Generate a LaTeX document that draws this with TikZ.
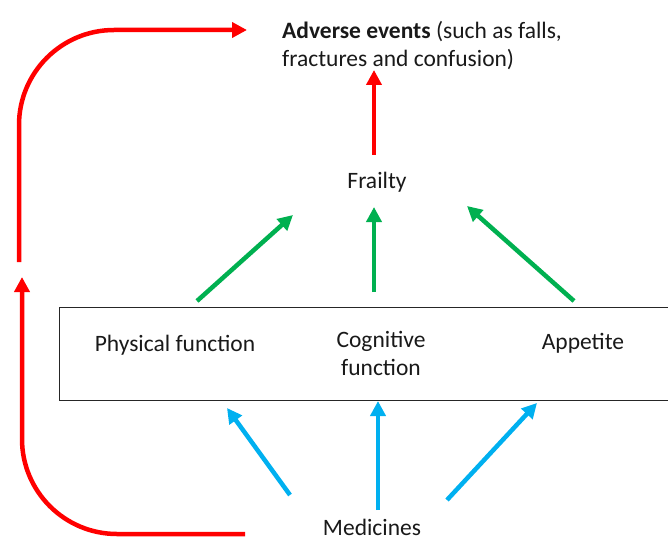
\documentclass[tikz,border=0pt]{standalone}
\usepackage{fontspec}
\setmainfont{Carlito}
\usetikzlibrary{arrows.meta}
\definecolor{myred}{HTML}{FF0000}
\definecolor{mygreen}{HTML}{00B050}
\definecolor{myblue}{HTML}{00B0F0}
\tikzset{
  lbl/.style={font=\fontsize{23.5}{28}\selectfont, inner sep=0pt, text=black!90},
  arr/.style={line width=4.5pt, -{Triangle[length=15pt,width=15pt]}},
  redarr/.style={arr, draw=myred},
  grnarr/.style={arr, draw=mygreen},
  bluarr/.style={arr, draw=myblue},
}
\begin{document}
\begin{tikzpicture}[x=1pt,y=-1pt]
\useasboundingbox (0,0) rectangle (668,540);
\clip (0,0) rectangle (668,540);
% box
\node[draw=black!85, line width=1.4pt, minimum width=640pt, minimum height=93pt, anchor=north west, inner sep=0pt] (box) at (59,307) {};
% texts
\node[lbl, anchor=north west, align=left] (adv) at (282,21) {\textbf{Adverse events} (such as falls,\\fractures and confusion)};
\node[lbl] (frailty) at (377,182) {Frailty};
\node[lbl] (phys) at (175,345) {Physical function};
\node[lbl, align=center] (cog) at (381,353) {Cognitive\\function};
\node[lbl] (app) at (583,343) {Appetite};
\node[lbl] (med) at (372,527) {Medicines};
% coordinates
\coordinate (r1s) at (19,262);
\coordinate (r1c) at (19,30);
\coordinate (r1e) at (247,30);
\coordinate (r2s) at (245,534);
\coordinate (r2c) at (22,534);
\coordinate (r2e) at (22,277);
\coordinate (rm1) at (374,155);
\coordinate (rm2) at (374,70);
\coordinate (g1s) at (197,301);
\coordinate (g1e) at (293,215);
\coordinate (g2s) at (374,292);
\coordinate (g2e) at (374,207);
\coordinate (g3s) at (574,301);
\coordinate (g3e) at (467,206);
\coordinate (b1s) at (290,495);
\coordinate (b1e) at (227,408);
\coordinate (b2s) at (378,510);
\coordinate (b2e) at (378,401);
\coordinate (b3s) at (447,500);
\coordinate (b3e) at (537,403);
% red
\draw[redarr, rounded corners=95pt] (r1s) -- (r1c) -- (r1e);
\draw[redarr, rounded corners=95pt] (r2s) -- (r2c) -- (r2e);
\draw[redarr] (rm1) -- (rm2);
% green
\draw[grnarr] (g1s) -- (g1e);
\draw[grnarr] (g2s) -- (g2e);
\draw[grnarr] (g3s) -- (g3e);
% blue
\draw[bluarr] (b1s) -- (b1e);
\draw[bluarr] (b2s) -- (b2e);
\draw[bluarr] (b3s) -- (b3e);
\end{tikzpicture}
\end{document}
